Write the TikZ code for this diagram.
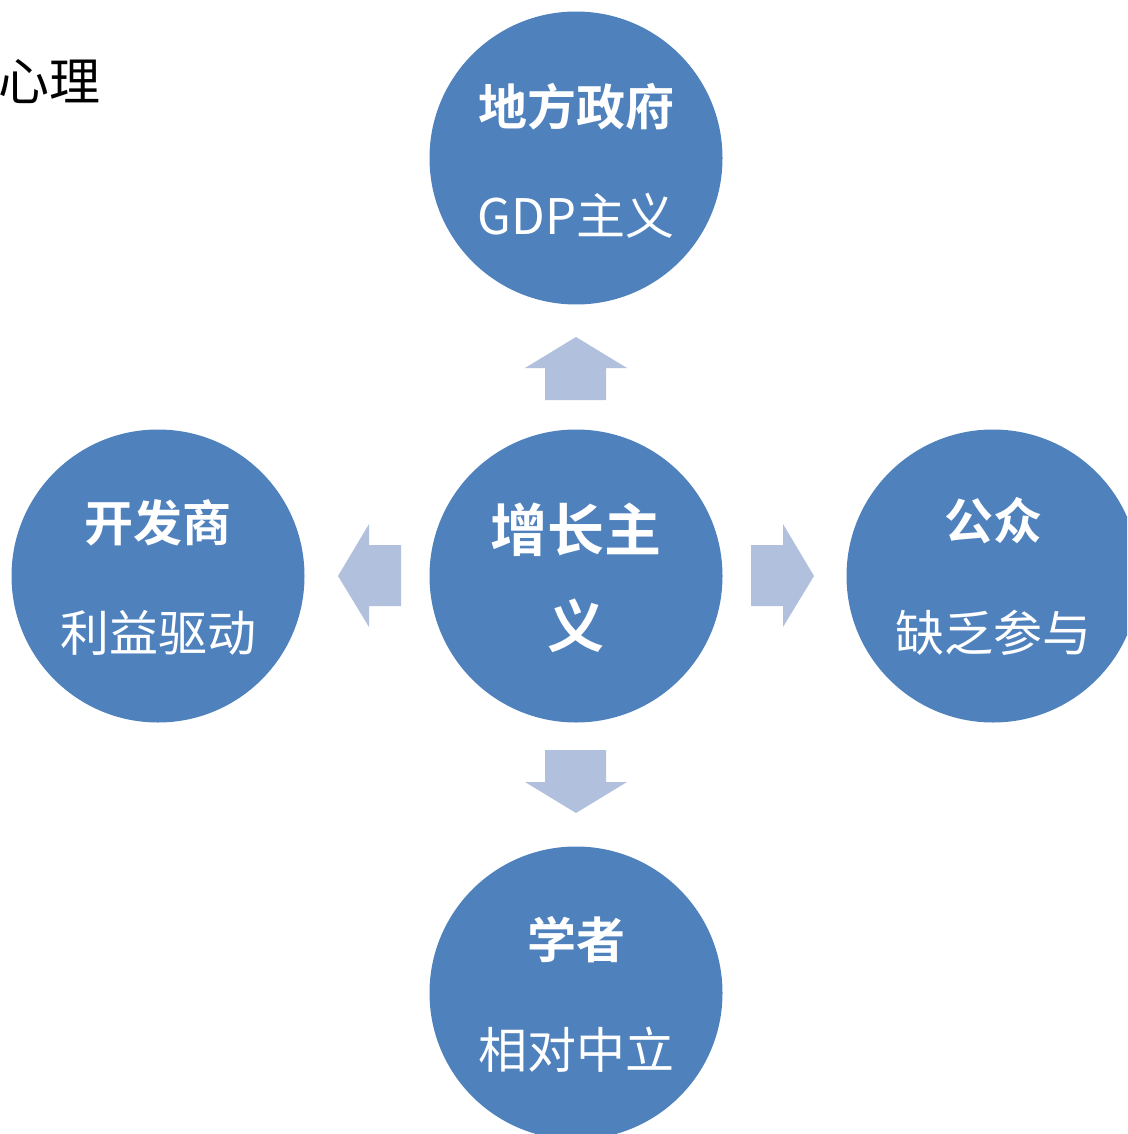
\documentclass[tikz,border=0pt]{standalone}
\usepackage{fontspec}
\newfontfamily\cjk{Noto Sans CJK SC}
\newfontfamily\cjkb{Noto Sans CJK SC Bold}
\definecolor{circblue}{HTML}{4F81BD}
\definecolor{arrblue}{HTML}{B1C1DD}
\begin{document}
\begin{tikzpicture}[x=1pt,y=-1pt,
  circ/.style={circle,fill=circblue,minimum size=293pt,inner sep=0pt},
  ttl/.style={text=white,font=\cjkb\fontsize{49}{55}\selectfont,inner sep=0pt},
  bigttl/.style={text=white,font=\cjkb\fontsize{57}{62}\selectfont,inner sep=0pt},
  sub/.style={text=white,font=\cjk\fontsize{49}{55}\selectfont,inner sep=0pt},
  arr/.style={fill=arrblue,draw=none}]
\useasboundingbox (0,0) rectangle (1127,1134);
\clip (0,0) rectangle (1127,1134);
\node[circ] (top) at (576,158) {};
\node[circ] (ctr) at (576,576) {};
\node[circ] (lft) at (158,576) {};
\node[circ] (rgt) at (993,576) {};
\node[circ] (bot) at (576,993) {};
\node[ttl] (topt) at (576,107) {地方政府};
\node[sub] (tops) at (576,216) {GDP主义};
\node[bigttl] (ctrt1) at (576,530) {增长主};
\node[bigttl] (ctrt2) at (576,626) {义};
\node[ttl] (lftt) at (158,523) {开发商};
\node[sub] (lfts) at (158,633) {利益驱动};
\node[ttl] (rgtt) at (993,521) {公众};
\node[sub] (rgts) at (993,633) {缺乏参与};
\node[ttl] (bott) at (576,940) {学者};
\node[sub] (bots) at (576,1050) {相对中立};
\node[font=\cjk\fontsize{51}{55}\selectfont,inner sep=0pt,anchor=east] (xl) at (101,82) {心理};
% arrows
\fill[arr] (576,337) -- (627,368) -- (606,368) -- (606,400) -- (545,400) -- (545,368) -- (525,368) -- cycle;
\fill[arr] (576,813) -- (627,782) -- (606,782) -- (606,750) -- (545,750) -- (545,782) -- (525,782) -- cycle;
\fill[arr] (338,576) -- (369,524) -- (369,545) -- (401,545) -- (401,606) -- (369,606) -- (369,627) -- cycle;
\fill[arr] (814,576) -- (783,524) -- (783,545) -- (751,545) -- (751,606) -- (783,606) -- (783,627) -- cycle;
\end{tikzpicture}
\end{document}
